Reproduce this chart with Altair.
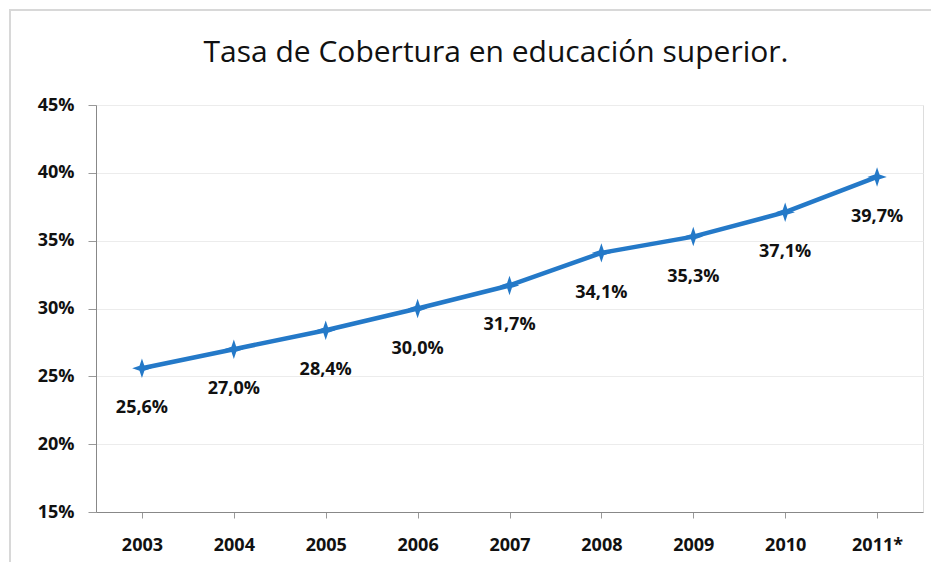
import altair as alt
import pandas as pd

title = "Tasa de Cobertura en educación superior."
years = ["2003", "2004", "2005", "2006", "2007", "2008", "2009", "2010", "2011*"]
values = [0.256, 0.270, 0.284, 0.300, 0.317, 0.341, 0.353, 0.371, 0.397]
labels = ["25,6%", "27,0%", "28,4%", "30,0%", "31,7%", "34,1%", "35,3%", "37,1%", "39,7%"]
y_ticks = [0.15, 0.20, 0.25, 0.30, 0.35, 0.40, 0.45]

df = pd.DataFrame({"year": years, "value": values, "label": labels})

FONT = "Open Sans"
BLUE = "#2479c8"

x = alt.X("year:N", sort=years, title=None,
          axis=alt.Axis(labelAngle=0, labelFont=FONT, labelFontSize=18, labelFontWeight="bold",
                        labelColor="#111", labelPadding=18, domainColor="#888", tickColor="#999",
                        tickSize=6, bandPosition=0, grid=False))
y = alt.Y("value:Q", title=None,
          scale=alt.Scale(domain=[0.15, 0.45], nice=False, zero=False),
          axis=alt.Axis(values=y_ticks, format=".0%", labelFont=FONT, labelFontSize=18,
                        labelFontWeight="bold", labelColor="#111", labelPadding=14,
                        domainColor="#888", tickColor="#999", tickSize=8,
                        gridColor="#ececec", grid=True))

base = alt.Chart(df)
line = base.mark_line(color=BLUE, strokeWidth=4.5).encode(x=x, y=y)
pts = base.mark_point(
    shape="M0,-1 L0.25,-0.25 L1,0 L0.25,0.25 L0,1 L-0.25,0.25 L-1,0 L-0.25,-0.25 Z",
    filled=True, color=BLUE, size=380, opacity=1).encode(x=x, y=y)
txt = base.mark_text(dy=40, font=FONT, fontSize=18, fontWeight="bold", color="#111").encode(
    x=x, y=y, text="label:N")
frame = base.mark_rect(fill=None, stroke="#d8d8d8", strokeWidth=2).encode(
    x=alt.value(-86), x2=alt.value(843), y=alt.value(-95), y2=alt.value(480))
ttl = alt.Chart(pd.DataFrame({"t": [title]})).mark_text(
    font=FONT, fontSize=30, color="#111", baseline="middle", align="center").encode(
    x=alt.value(400), y=alt.value(-52), text="t:N")

chart = (frame + line + pts + txt + ttl).properties(
    width=827, height=407,
    autosize=alt.AutoSizeParams(type="none"),
    padding={"left": 88, "top": 97, "right": 8, "bottom": 50},
).configure_view(stroke=None).configure(background="white")

chart.save("out.html", embed_options={"renderer": "svg", "actions": False})
